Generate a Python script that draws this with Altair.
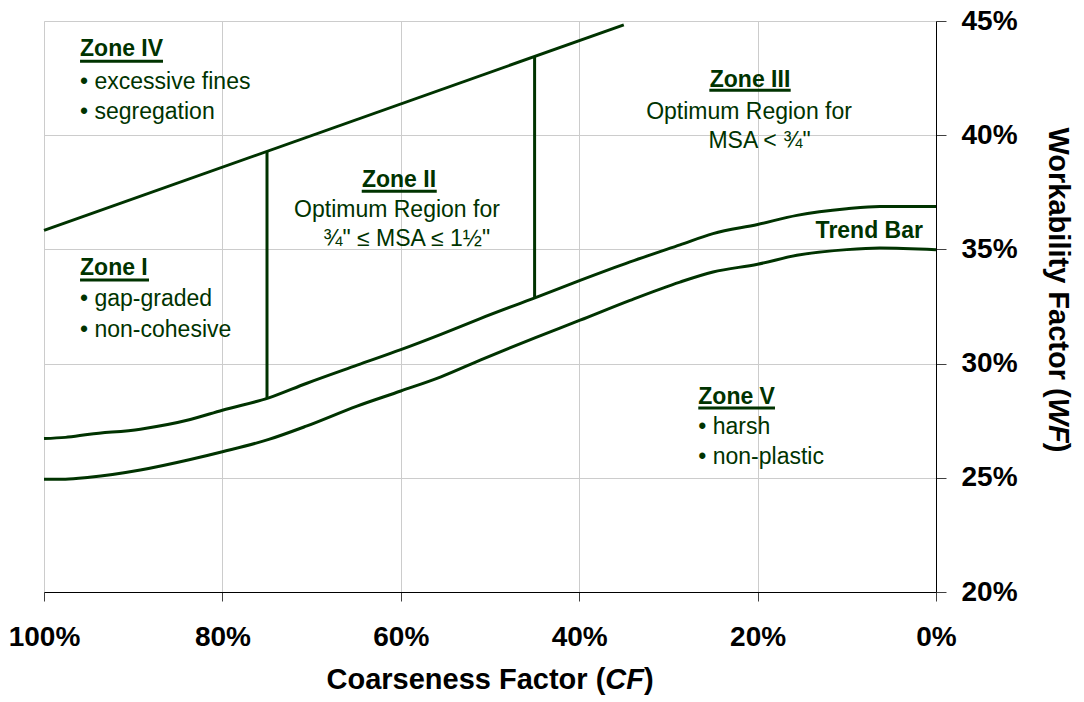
import altair as alt
import pandas as pd

FONT = "Liberation Sans"
GREEN = "#003300"

# ---- data ----
cf_pts = [100, 97.6, 94.9, 89.2, 83.6, 80, 74.8, 70.6, 64.9, 60, 55.5, 51.1,
          44.9, 39.9, 34.3, 28.7, 25, 20, 15.6, 10, 6.3, 0]
wf_upper = [26.72, 26.77, 26.91, 27.13, 27.55, 27.96, 28.50, 29.13, 29.93, 30.61, 31.28, 31.97,
            32.89, 33.64, 34.45, 35.20, 35.69, 36.09, 36.49, 36.78, 36.88, 36.88]
wf_lower = [24.94, 24.94, 25.02, 25.34, 25.80, 26.14, 26.68, 27.26, 28.14, 28.80, 29.42, 30.15,
            31.14, 31.90, 32.77, 33.57, 34.01, 34.35, 34.74, 34.99, 35.06, 34.99]

seg_names = ["top", "top", "v75", "v75", "v45", "v45"]
seg_cf = [100, 35, 75, 75, 45, 45]
seg_wf = [35.83, 44.83, 28.50, 39.29, 32.89, 43.45]
seg_ord = [0, 1, 0, 1, 0, 1]

x_ticks = [0, 20, 40, 60, 80, 100]
y_ticks = [20, 25, 30, 35, 40, 45]

# annotation texts: (text, cf, wf, style)
ann_text = ["Zone IV", "• excessive fines", "• segregation",
            "Zone I", "• gap-graded", "• non-cohesive",
            "Zone II", "Optimum Region for", "¾\" ≤ MSA ≤ 1½\"",
            "Zone III", "Optimum Region for", "MSA < ¾\"",
            "Zone V", "• harsh", "• non-plastic",
            "Trend Bar"]
ann_cf = [95.96, 95.96, 95.96,
          95.96, 95.96, 95.96,
          60.20, 60.43, 59.34,
          20.85, 20.96, 19.79,
          26.65, 26.65, 26.65,
          1.46]
ann_wf = [43.46, 42.04, 40.69,
          33.88, 32.52, 31.18,
          37.74, 36.40, 35.14,
          42.09, 40.73, 39.44,
          28.25, 26.91, 25.59,
          35.48]
ann_style = ["left_bold", "left", "left",
             "left_bold", "left", "left",
             "center_bold", "center", "center",
             "center_bold", "center", "center",
             "left_bold", "left", "left",
             "right_bold"]

ul_cf1 = [95.96, 95.96, 64.38, 25.41, 26.65]
ul_cf2 = [86.66, 88.23, 55.97, 16.29, 18.05]
ul_wf = [43.24, 33.66, 37.55, 41.97, 28.06]

# ---- tables ----
curves = pd.DataFrame({
    "cf": cf_pts * 2,
    "wf": wf_upper + wf_lower,
    "series": ["upper"] * len(cf_pts) + ["lower"] * len(cf_pts),
    "ord": list(range(len(cf_pts))) * 2,
})
bounds = pd.DataFrame({"cf": seg_cf, "wf": seg_wf, "series": seg_names, "ord": seg_ord})
ann = pd.DataFrame({"text": ann_text, "cf": ann_cf, "wf": ann_wf, "style": ann_style})
ul = pd.DataFrame({"cf": ul_cf1, "cf2": ul_cf2, "wf": ul_wf})

W, H = 892, 571

x_scale = alt.Scale(domain=[0, 100], reverse=True, nice=False, zero=False)
y_scale = alt.Scale(domain=[20, 45], nice=False, zero=False)

x_axis = alt.Axis(values=x_ticks, labelExpr="datum.value + '%'", orient="bottom", title=None,
                  grid=True, gridColor="#cccccc", gridWidth=1,
                  domainColor="#000000", domainWidth=1, tickColor="#404040", tickSize=9,
                  labelFont=FONT, labelFontSize=28, labelFontWeight="bold", labelColor="#000000",
                  labelPadding=22, labelFlush=False, labelOverlap=False)
y_axis = alt.Axis(values=y_ticks, labelExpr="datum.value + '%'", orient="right", title=None,
                  grid=True, gridColor="#cccccc", gridWidth=1,
                  domainColor="#000000", domainWidth=1, tickColor="#404040", tickSize=10,
                  labelFont=FONT, labelFontSize=28, labelFontWeight="bold", labelColor="#000000",
                  labelPadding=15, labelAlign="left", labelBaseline="middle",
                  labelFlush=False, labelOverlap=False)

X = alt.X("cf:Q", scale=x_scale, axis=x_axis)
Y = alt.Y("wf:Q", scale=y_scale, axis=y_axis)

curve_layer = alt.Chart(curves).mark_line(color=GREEN, strokeWidth=3, interpolate="monotone").encode(
    x=X, y=Y, detail="series:N", order="ord:Q")
bound_layer = alt.Chart(bounds).mark_line(color=GREEN, strokeWidth=3).encode(
    x=X, y=Y, detail="series:N", order="ord:Q")
ul_layer = alt.Chart(ul).mark_rule(color=GREEN, strokeWidth=3).encode(
    x=X, x2=alt.X2("cf2:Q"), y=Y)

text_layers = []
for style, align, weight in [("left", "left", "normal"), ("left_bold", "left", "bold"),
                             ("center", "center", "normal"), ("center_bold", "center", "bold"),
                             ("right_bold", "right", "bold")]:
    text_layers.append(
        alt.Chart(ann[ann["style"] == style]).mark_text(
            align=align, baseline="alphabetic", font=FONT, fontSize=23,
            fontWeight=weight, color=GREEN
        ).encode(x=X, y=Y, text="text:N")
    )

one = pd.DataFrame({"k": [0]})


def title_part(txt, x, y, align, italic=False, angle=0):
    kw = dict(align=align, baseline="alphabetic", font=FONT, fontSize=29,
              fontWeight="bold", color="#000000", text=txt)
    if italic:
        kw["fontStyle"] = "italic"
    if angle:
        kw["angle"] = angle
    return alt.Chart(one).mark_text(**kw).encode(x=alt.value(x), y=alt.value(y))


# x title: "Coarseness Factor (CF)"
xa = 561.3
xy = 668
x_title = [title_part("Coarseness Factor (", xa, xy, "right"),
           title_part("CF", xa, xy, "left", italic=True),
           title_part(")", xa + 38.7, xy, "left")]
# y title: "Workability Factor (WF)", reading downward
ya = 376.7
yx = 1005
y_title = [title_part("Workability Factor (", yx, ya, "right", angle=90),
           title_part("WF", yx, ya, "left", italic=True, angle=90),
           title_part(")", yx, ya + 45.1, "left", angle=90)]

chart = alt.layer(curve_layer, bound_layer, ul_layer, *text_layers, *x_title, *y_title).properties(
    width=W, height=H,
    padding={"left": 36, "top": 13, "right": 140, "bottom": 104},
    autosize=alt.AutoSizeParams(type="none"),
).configure_view(stroke="#999999", strokeWidth=1).configure(background="white")

chart.save("out.html", embed_options={"renderer": "svg", "actions": False})
